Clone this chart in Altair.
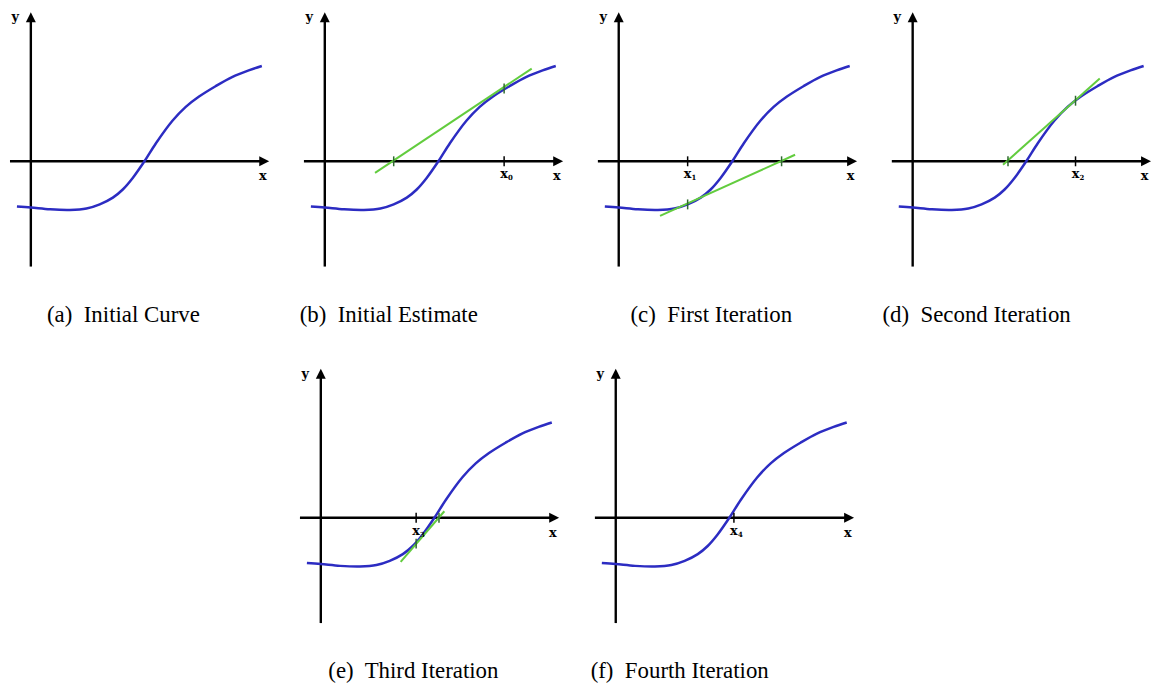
import altair as alt
import pandas as pd

# ---------------- data ----------------
curve_x = [-0.70, 0.0, 0.97, 1.97, 2.8, 3.47, 4.13, 4.63, 5.13, 5.72, 6.3,
           7.13, 7.8, 8.47, 9.3, 10.13, 10.97, 11.63]
curve_y = [-2.28, -2.33, -2.42, -2.45, -2.38, -2.17, -1.83, -1.42, -0.84, 0.0,
           0.91, 2.04, 2.74, 3.26, 3.78, 4.24, 4.58, 4.8]

panels = ["a", "b", "c", "d", "e", "f"]
captions = ["(a)\u00a0 Initial Curve", "(b)\u00a0 Initial Estimate",
            "(c)\u00a0 First Iteration", "(d)\u00a0 Second Iteration",
            "(e)\u00a0 Third Iteration", "(f)\u00a0 Fourth Iteration"]

# current estimate x_n (subscript) and the curve point above it
est_panel = ["b", "c", "d", "e", "f"]
est_sub = ["0", "1", "2", "3", "4"]
est_x = [9.03, 3.47, 8.2, 4.8, 5.95]
est_y = [3.67, -2.17, 3.05, -1.3, 0.0]

# tangent lines and where they meet the x axis
tan_panel = ["b", "c", "d", "e"]
tan_x_start = [2.53, 2.08, 4.55, 4.02]
tan_y_start = [-0.58, -2.75, -0.17, -2.22]
tan_x_end = [10.42, 8.88, 9.42, 6.22]
tan_y_end = [4.67, 0.33, 4.17, 0.33]
tan_root = [3.47, 8.2, 4.8, 5.95]

# ---------------- layout / style ----------------
S = 20                      # pixels per unit
X_HI = 12.0
Y_LO, Y_HI = -8.3, 7.55
AX_X0, AX_X1 = -1.05, 11.8  # x-axis shaft
AX_Y0, AX_Y1 = -5.3, 7.3    # y-axis shaft
ARROW_X, ARROW_Y = 11.75, 7.25
TICK = 0.25
CAP_Y = -8.07
CAP_X = {"a": 4.66, "b": 3.22, "c": 4.66, "d": 3.22, "e": 4.66, "f": 3.22}
X_LO = {"a": -1.1, "b": -1.1, "c": -1.1, "d": -1.1, "e": -15.7, "f": -1.1}

BLUE = "#2c2cc2"
GREEN = "#62cc3e"
DKGREEN = "#2f6a2f"
LETTER_FONT = "DejaVu Serif"
SERIF = "Liberation Serif"

curve_df = pd.DataFrame({"x": curve_x, "y": curve_y})
est_df = pd.DataFrame({"panel": est_panel, "sub": est_sub, "x": est_x, "y": est_y,
                       "zero": 0.0})
tan_df = pd.DataFrame({"panel": tan_panel, "x": tan_x_start, "y": tan_y_start,
                       "x2": tan_x_end, "y2": tan_y_end, "root": tan_root,
                       "zero": 0.0})


def panel(pid, cap):
    xs = alt.Scale(domain=[X_LO[pid], X_HI], nice=False, zero=False)
    ys = alt.Scale(domain=[Y_LO, Y_HI], nice=False, zero=False)

    def X(f):
        return alt.X(f, type="quantitative", scale=xs, axis=None)

    def Y(f):
        return alt.Y(f, type="quantitative", scale=ys, axis=None)

    axes_df = pd.DataFrame({"x": [AX_X0, 0.0], "x2": [AX_X1, 0.0],
                            "y": [0.0, AX_Y0], "y2": [0.0, AX_Y1]})
    base = alt.Chart(axes_df)
    layers = [
        base.mark_rule(color="black", strokeWidth=2.4).encode(
            x=X("x"), x2="x2", y=Y("y"), y2="y2"),
        alt.Chart(pd.DataFrame({"x": [0.0], "y": [ARROW_Y]})).mark_point(
            shape="M0,-1L1,1L-1,1Z", size=100, filled=True, color="black",
            opacity=1, strokeWidth=0).encode(x=X("x"), y=Y("y")),
        alt.Chart(pd.DataFrame({"x": [ARROW_X], "y": [0.0]})).mark_point(
            shape="M1,0L-1,1L-1,-1Z", size=100, filled=True, color="black",
            opacity=1, strokeWidth=0).encode(x=X("x"), y=Y("y")),
        alt.Chart(pd.DataFrame({"t": ["y", "x"], "x": [-0.78, 11.68],
                                "y": [7.25, -0.75]})).mark_text(
            font=LETTER_FONT, fontWeight="bold", fontSize=13, color="black",
            align="center", baseline="middle").encode(
            x=X("x"), y=Y("y"), text="t:N"),
        alt.Chart(curve_df).mark_line(color=BLUE, strokeWidth=2.5,
                                      interpolate="catmull-rom").encode(
            x=X("x"), y=Y("y")),
    ]

    t = tan_df[tan_df.panel == pid]
    if len(t):
        tb = alt.Chart(t)
        layers += [
            tb.mark_rule(color=GREEN, strokeWidth=2).encode(
                x=X("x"), y=Y("y"), x2="x2", y2="y2"),
            tb.transform_calculate(lo=f"datum.zero-{TICK}",
                                   hi=f"datum.zero+{TICK}").mark_rule(
                color=DKGREEN, strokeWidth=1.5).encode(
                x=X("root"), y=Y("lo:Q"), y2="hi:Q"),
        ]

    e = est_df[est_df.panel == pid]
    if len(e):
        eb = alt.Chart(e)
        layers += [
            eb.transform_calculate(lo=f"datum.zero-{TICK}",
                                   hi=f"datum.zero+{TICK}").mark_rule(
                color="black", strokeWidth=1.5).encode(
                x=X("x"), y=Y("lo:Q"), y2="hi:Q"),
            eb.mark_text(font=LETTER_FONT, fontWeight="bold", fontSize=13,
                         color="black", align="center", baseline="middle",
                         text="x").encode(
                x=X("x"), y=Y("lbl:Q")).transform_calculate(
                lbl="datum.zero-0.65"),
            eb.mark_text(font=LETTER_FONT, fontWeight="bold", fontSize=7,
                         color="black", align="left", baseline="middle",
                         dx=4, dy=4).encode(
                x=X("x"), y=Y("lbl:Q"), text="sub:N").transform_calculate(
                lbl="datum.zero-0.65"),
        ]
        if len(t):
            layers.append(
                eb.transform_calculate(lo=f"datum.y-{TICK}",
                                       hi=f"datum.y+{TICK}").mark_rule(
                    color=DKGREEN, strokeWidth=1.5).encode(
                    x=X("x"), y=Y("lo:Q"), y2="hi:Q"))

    layers.append(
        alt.Chart(pd.DataFrame({"t": [cap], "x": [CAP_X[pid]], "y": [CAP_Y]}))
        .mark_text(font=SERIF, fontSize=23, color="black", align="center",
                   baseline="alphabetic")
        .encode(x=X("x"), y=Y("y"), text="t:N"))

    return alt.layer(*layers).properties(
        width=(X_HI - X_LO[pid]) * S, height=(Y_HI - Y_LO) * S)


charts = {p: panel(p, c) for p, c in zip(panels, captions)}

row1 = alt.hconcat(charts["a"], charts["b"], charts["c"], charts["d"],
                   spacing=34, bounds="flush")
row2 = alt.hconcat(charts["e"], charts["f"], spacing=35, bounds="flush")

chart = alt.vconcat(row1, row2, spacing=40).properties(
    padding=0).configure_view(strokeWidth=0)

chart.save("out.html", embed_options={"renderer": "svg", "actions": False})
